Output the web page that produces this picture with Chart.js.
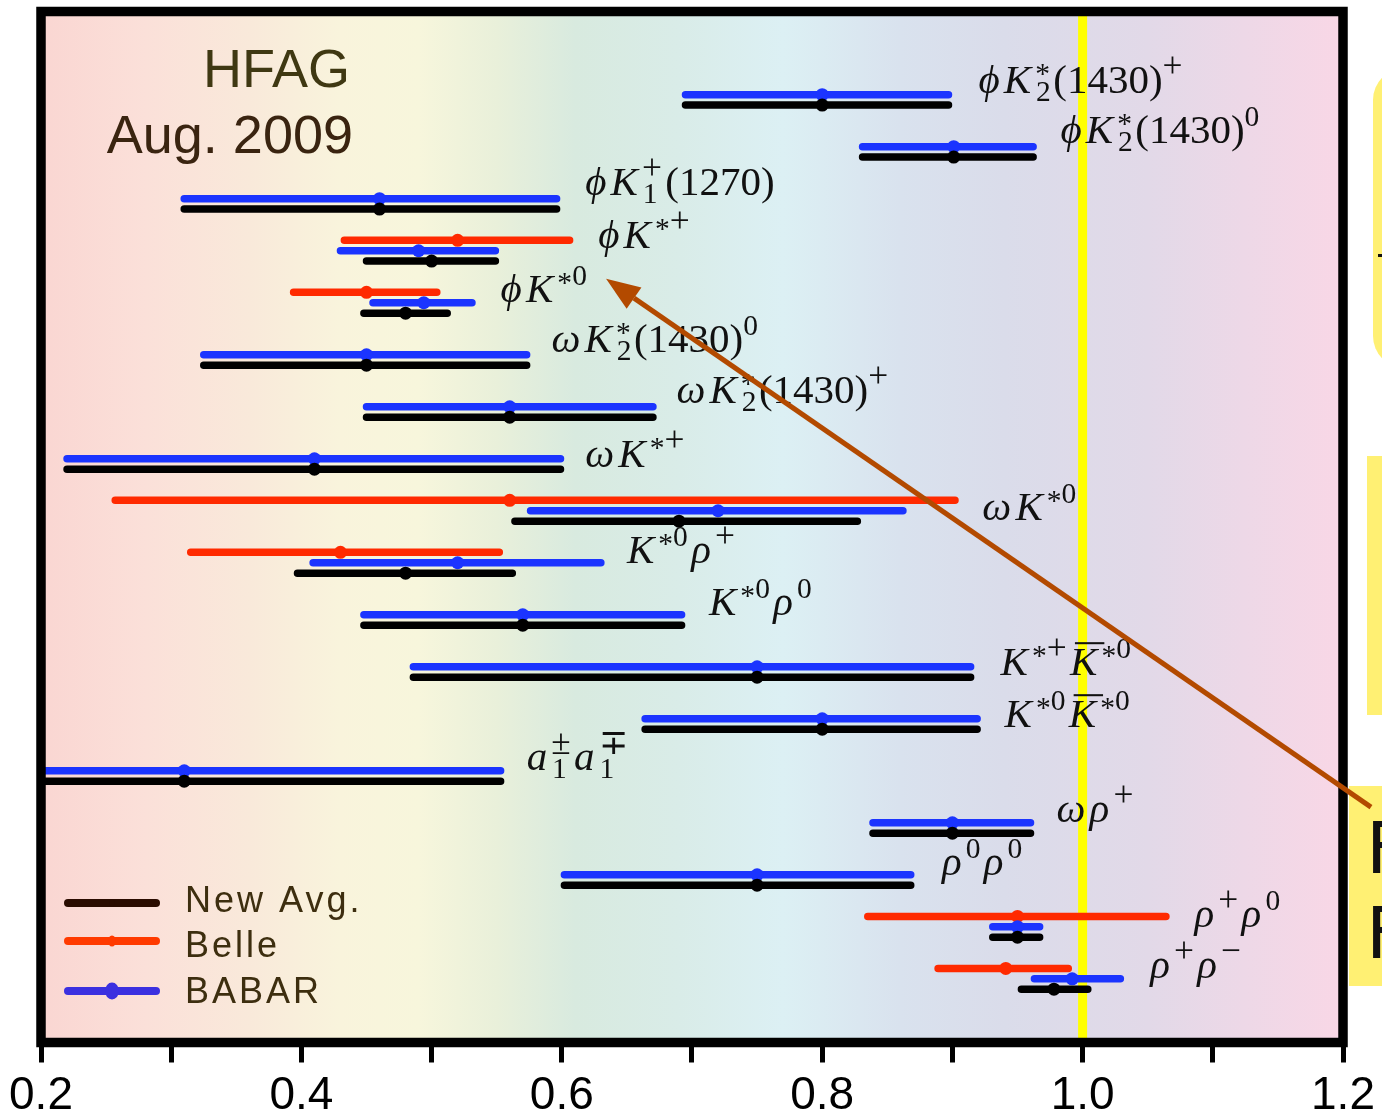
<!DOCTYPE html>
<html>
<head>
<meta charset="utf-8">
<title>f_L summary</title>
<script src="https://cdn.jsdelivr.net/npm/chart.js@4.4.0/dist/chart.umd.min.js"></script>
<style>
  html, body { margin: 0; padding: 0; background: #fff; }
  canvas { display: block; }
</style>
</head>
<body>
<canvas id="fl" width="1382" height="1119"></canvas>
<script>
// decay modes, top to bottom (TeX-ish: ^ sup, _ sub, ~ overline)
const modes = [
  'ϕK_2^*(1430)^+', 'ϕK_2^*(1430)^0', 'ϕK_1^+(1270)', 'ϕK^{*+}', 'ϕK^{*0}',
  'ωK_2^*(1430)^0', 'ωK_2^*(1430)^+', 'ωK^{*+}', 'ωK^{*0}', 'K^{*0}ρ^+',
  'K^{*0}ρ^0', 'K^{*+}~K^{*0}', 'K^{*0}~K^{*0}', 'a_1^±a_1^∓', 'ωρ^+',
  'ρ^0ρ^0', 'ρ^+ρ^0', 'ρ^+ρ^−'
];

// longitudinal polarization fraction: central value and interval edges
const avgFL   = [0.800, 0.901, 0.46, 0.50, 0.480, 0.45, 0.56, 0.41, 0.69, 0.48, 0.57, 0.75, 0.80, 0.31, 0.90, 0.75, 0.950, 0.978];
const avgLo   = [0.695, 0.831, 0.31, 0.45, 0.448, 0.325, 0.45, 0.22, 0.564, 0.397, 0.448, 0.486, 0.664, 0.07, 0.839, 0.602, 0.931, 0.953];
const avgHi   = [0.897, 0.962, 0.596, 0.549, 0.512, 0.573, 0.67, 0.599, 0.827, 0.562, 0.692, 0.914, 0.919, 0.553, 0.96, 0.868, 0.967, 1.004];

const babarFL = [0.800, 0.901, 0.46, 0.49, 0.494, 0.45, 0.56, 0.41, 0.72, 0.52, 0.57, 0.75, 0.80, 0.31, 0.90, 0.75, 0.950, 0.992];
const babarLo = [0.695, 0.831, 0.31, 0.43, 0.455, 0.325, 0.45, 0.22, 0.576, 0.409, 0.448, 0.486, 0.664, 0.07, 0.839, 0.602, 0.931, 0.963];
const babarHi = [0.897, 0.962, 0.596, 0.549, 0.531, 0.573, 0.67, 0.599, 0.862, 0.630, 0.692, 0.914, 0.919, 0.553, 0.96, 0.868, 0.967, 1.029];

const belleFL = [null, null, null, 0.52, 0.45, null, null, null, 0.56, 0.43, null, null, null, null, null, null, 0.95, 0.941];
const belleLo = [null, null, null, 0.433, 0.394, null, null, null, 0.257, 0.315, null, null, null, null, null, null, 0.835, 0.889];
const belleHi = [null, null, null, 0.606, 0.504, null, null, null, 0.902, 0.552, null, null, null, null, null, null, 1.064, 0.989];

const xTicks = [0.2, 0.4, 0.6, 0.8, 1.0, 1.2];

// where each mode name sits: x in f_L units, baseline nudge in px from the row
const labelPlace = [
  [0.920, -7], [0.983, -9], [0.618, -9], [0.628, -8], [0.553, -6],
  [0.592, -8], [0.688, -9], [0.618, 3], [0.923, 4], [0.650, -5],
  [0.713, -5], [0.937, 3], [0.940, 3], [0.573, -6], [0.980, -6],
  [0.892, -5], [1.086, -5], [1.052, -6]
];

// build broken polylines: lo -> value -> hi, then a gap
function bars(val, lo, hi, shift) {
  const pts = [];
  val.forEach((v, i) => {
    if (v === null) return;
    const y = i + shift;
    pts.push({x: lo[i], y}, {x: v, y, c: true}, {x: hi[i], y}, {x: hi[i], y: null});
  });
  return pts;
}

function series(label, color, data) {
  return {
    label, data,
    borderColor: color, backgroundColor: color,
    borderWidth: 7.5, borderCapStyle: 'round',
    pointRadius: c => (c.raw && c.raw.c ? 6.5 : 0),
    pointBorderWidth: 0, pointHoverRadius: 0,
    spanGaps: false, tension: 0, fill: false
  };
}

const bgStops = [
  [0.00, '#fad6d2'], [0.08, '#fbe0d9'], [0.16, '#f9e9da'], [0.23, '#f9f4dc'],
  [0.29, '#f7f6dc'], [0.35, '#e9f0da'], [0.41, '#d8eadf'], [0.49, '#d9ece8'],
  [0.57, '#dcf0f4'], [0.66, '#d9e2ee'], [0.74, '#dadcea'], [0.85, '#e2d9e8'],
  [1.00, '#f9d7e6']
];

// legend rows: line offset and text baseline, measured up from the axis
const legendRows = [
  {name: 'New Avg.', color: '#2a0c00', dot: 2.5, dy: 139.5, ty: 130.5},
  {name: 'Belle', color: '#ff3a00', dot: 4, dy: 101.5, ty: 85.5},
  {name: 'BABAR', color: '#3b30e0', dot: 7, dy: 51.5, ty: 39.5}
];

function mathRuns(src) {
  const runs = [];
  let i = 0;
  while (i < src.length) {
    const c = src[i];
    if (c === '^' || c === '_') {
      const sc = {sup: '', sub: ''};
      while (src[i] === '^' || src[i] === '_') {
        const key = src[i] === '^' ? 'sup' : 'sub';
        i++;
        let t;
        if (src[i] === '{') { const j = src.indexOf('}', i); t = src.slice(i + 1, j); i = j + 1; }
        else { t = src[i]; i++; }
        sc[key] = t;
      }
      runs.push({script: sc});
    } else if (c === '~') {
      runs.push({t: src[i + 1], bar: true});
      i += 2;
    } else {
      runs.push({t: c});
      i++;
    }
  }
  return runs;
}

const isVar = ch => /[A-Za-z\u03b1-\u03c9\u03d5]/.test(ch);

function drawMath(ctx, src, x, y, size) {
  const small = size * 0.72;
  const face = (ch, s) => (isVar(ch) ? 'italic ' : '') + s + 'px "Liberation Serif"';
  const put = (str, px, py, s) => {
    let w = 0;
    for (const ch of str) {
      const op = /[+−±∓]/.test(ch);
      const fs = op ? s * 1.2 : s;
      ctx.font = face(ch, fs);
      ctx.fillText(ch, px + w, py + (ch === '*' ? s * 0.25 : 0) + (op ? s * 0.05 : 0));
      w += ctx.measureText(ch).width;
    }
    return w;
  };
  let cx = x;
  for (const r of mathRuns(src)) {
    if (r.script) {
      const w1 = r.script.sup ? put(r.script.sup, cx, y - size * 0.42, small) : 0;
      const w2 = r.script.sub ? put(r.script.sub, cx + size * 0.02, y + size * 0.2, small) : 0;
      cx += Math.max(w1, w2) + size * 0.08;
    } else {
      ctx.font = face(r.t, size);
      ctx.fillText(r.t, cx, y);
      const w = ctx.measureText(r.t).width;
      if (r.bar) ctx.fillRect(cx + size * 0.12, y - size * 0.8, w + size * 0.05, size * 0.05);
      cx += w + (isVar(r.t) ? size * 0.1 : 0);
    }
  }
  return cx;
}

const decor = {
  id: 'decor',
  beforeDraw(chart) {
    const {ctx, chartArea: a} = chart;
    ctx.save();
    const g = ctx.createLinearGradient(a.left, 0, a.right, 0);
    bgStops.forEach(([p, c]) => g.addColorStop(p, c));
    ctx.fillStyle = g;
    ctx.fillRect(a.left, a.top, a.width, a.height);
    ctx.restore();
  },
  beforeDatasetsDraw(chart) {
    const {ctx, chartArea: a} = chart;
    const x1 = chart.scales.x.getPixelForValue(1.0);
    ctx.save();
    ctx.fillStyle = '#ffff00';
    ctx.fillRect(x1 - 4.5, a.top, 9, a.height);
    ctx.restore();
  },
  afterDatasetsDraw(chart) {
    const {ctx, chartArea: a, scales} = chart;
    ctx.save();
    // mode names
    ctx.fillStyle = '#111';
    ctx.textBaseline = 'alphabetic';
    modes.forEach((m, i) => {
      const [lx, dy] = labelPlace[i];
      drawMath(ctx, m, scales.x.getPixelForValue(lx), scales.y.getPixelForValue(i) + dy, 41);
    });

    // group tag
    ctx.textAlign = 'right';
    ctx.font = '54px "Liberation Sans"';
    ctx.fillStyle = '#3f3812';
    ctx.fillText('HFAG', a.left + 309, a.top + 75.5);
    ctx.fillStyle = '#3a2410';
    ctx.fillText('Aug. 2009', a.left + 312, a.top + 141);
    ctx.textAlign = 'left';

    // legend, lower left
    ctx.lineCap = 'round';
    ctx.font = '36px "Liberation Sans"';
    ctx.letterSpacing = '3px';
    legendRows.forEach(r => {
      const y = a.bottom - r.dy;
      ctx.strokeStyle = r.color;
      ctx.fillStyle = r.color;
      ctx.lineWidth = 8;
      ctx.beginPath();
      ctx.moveTo(a.left + 27, y);
      ctx.lineTo(a.left + 115, y);
      ctx.stroke();
      ctx.beginPath();
      ctx.ellipse(a.left + 71, y, r.dot, r.dot + 1.5, 0, 0, Math.PI * 2);
      ctx.fill();
      ctx.fillStyle = '#3d2e0f';
      ctx.fillText(r.name, a.left + 144, a.bottom - r.ty);
    });
    ctx.letterSpacing = '0px';

    // frame
    ctx.strokeStyle = '#000';
    ctx.lineWidth = 9.5;
    ctx.lineJoin = 'miter';
    ctx.strokeRect(a.left, a.top, a.width, a.height);
    ctx.restore();
  },
  afterDraw(chart) {
    const {ctx, scales} = chart;
    ctx.save();
    // side notes running off the page
    ctx.fillStyle = '#fff073';
    ctx.beginPath();
    ctx.roundRect(1373, 68, 80, 300, 32);
    ctx.fill();
    ctx.fillRect(1367, 456, 40, 259);
    ctx.fillRect(1349, 786, 40, 200);
    ctx.fillStyle = '#111';
    ctx.fillRect(1378, 254, 4, 3);
    ctx.font = '72px "DejaVu Sans"';
    ctx.fillText('F', 1366, 873);
    ctx.fillText('F', 1366, 958);

    // pointer to the phi K*0 entry
    const tx = scales.x.getPixelForValue(0.634), ty = scales.y.getPixelForValue(3.44);
    const fx = scales.x.getPixelForValue(1.2215), fy = scales.y.getPixelForValue(13.6);
    const ang = Math.atan2(ty - fy, tx - fx);
    const hl = 34, hw = 13;
    const bx = tx - hl * Math.cos(ang), by = ty - hl * Math.sin(ang);
    ctx.strokeStyle = '#b34a00';
    ctx.fillStyle = '#b34a00';
    ctx.lineWidth = 5;
    ctx.beginPath();
    ctx.moveTo(fx, fy);
    ctx.lineTo(bx, by);
    ctx.stroke();
    ctx.beginPath();
    ctx.moveTo(tx, ty);
    ctx.lineTo(bx + hw * Math.sin(ang), by - hw * Math.cos(ang));
    ctx.lineTo(bx - hw * Math.sin(ang), by + hw * Math.cos(ang));
    ctx.closePath();
    ctx.fill();
    ctx.restore();
  }
};

new Chart(document.getElementById('fl').getContext('2d'), {
  type: 'line',
  data: {
    datasets: [
      series('New Avg.', '#000000', bars(avgFL, avgLo, avgHi, 0.1)),
      series('BABAR', '#1b34ff', bars(babarFL, babarLo, babarHi, -0.1)),
      series('Belle', '#ff2a00', bars(belleFL, belleLo, belleHi, -0.3))
    ]
  },
  options: {
    responsive: false,
    devicePixelRatio: 1,
    animation: false,
    events: [],
    layout: {padding: {left: 41, right: 39, top: 11.5, bottom: 0}},
    plugins: {legend: {display: false}, tooltip: {enabled: false}},
    scales: {
      x: {
        type: 'linear', min: 0.2, max: 1.2, position: 'bottom',
        afterFit: s => { s.height = 76.5; },
        border: {display: false},
        grid: {drawOnChartArea: false, drawTicks: true, tickLength: 20, tickWidth: 5, tickColor: '#000'},
        ticks: {
          stepSize: 0.1, autoSkip: false, maxRotation: 0, padding: 6,
          color: '#000', font: {family: 'Liberation Sans', size: 46},
          callback: v => {
            const t = xTicks.find(k => Math.abs(k - v) < 1e-6);
            return t === undefined ? '' : t.toFixed(1);
          }
        }
      },
      y: {type: 'linear', min: -1.7, max: 18.125, reverse: true, display: false}
    }
  },
  plugins: [decor]
});
</script>
</body>
</html>
